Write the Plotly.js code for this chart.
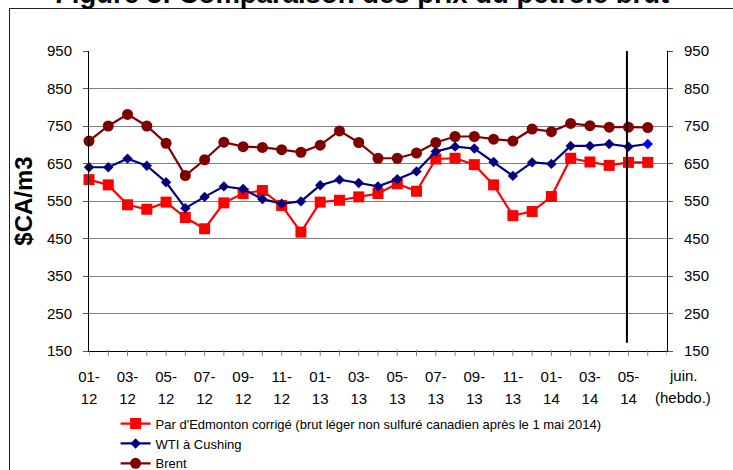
<!DOCTYPE html>
<html>
<head>
<meta charset="utf-8">
<script src="https://cdn.plot.ly/plotly-3.0.1.min.js"></script>
<style>
  html, body { margin: 0; padding: 0; background: #fff; overflow: hidden; }
  #frame { position: absolute; left: 9px; top: 8px; width: 800px; height: 600px;
           border-left: 1px solid #222; border-top: 1px solid #222; }
  #chart { position: absolute; left: 0; top: 0; width: 733px; height: 540px; }
</style>
</head>
<body>
<div id="frame"></div>
<div id="chart"></div>
<script>
// ---- Data ----
const categories = ['01-12','02-12','03-12','04-12','05-12','06-12','07-12','08-12','09-12','10-12','11-12','12-12',
                    '01-13','02-13','03-13','04-13','05-13','06-13','07-13','08-13','09-13','10-13','11-13','12-13',
                    '01-14','02-14','03-14','04-14','05-14','juin. (hebdo.)'];
const edmonton = [607,593,540,528,547,506,476,545,570,578,538,467,547,552,561,570,596,576,662,664,647,593,511,522,562,664,654,645,653,653];
const wti      = [640,640,663,644,600,531,561,589,582,555,543,549,592,607,598,589,608,629,682,695,690,654,617,653,649,697,697,702,695,702];
const brent    = [710,750,781,750,704,618,660,707,695,693,687,680,699,737,706,664,664,678,706,722,722,715,710,742,735,757,751,747,747,746];
const seriesNames = ["Par d'Edmonton corrigé (brut léger non sulfuré canadien après le 1 mai 2014)", 'WTI à Cushing', 'Brent'];
const yTitle = '$CA/m3';
const chartTitle = 'Figure 3: Comparaison des prix du pétrole brut';

// ---- Derived ----
const idx = categories.map((c, i) => i);
const labelIdx = idx.filter(i => i % 2 === 0 && i < categories.length - 1);
const line1 = labelIdx.map(i => categories[i].split('-')[0] + '-');
const line2 = labelIdx.map(i => categories[i].split('-')[1]);
const lastParts = categories[categories.length - 1].split(' ');
const allTicks = [];
for (let i = 0; i <= categories.length; i++) allTicks.push(i);
const wtiColors = wti.map((v, i) => i === wti.length - 1 ? '#0000FF' : '#000080');

const FONT = 'Liberation Sans, Arial, sans-serif';

const traces = [
  { x: idx, y: edmonton, name: seriesNames[0], type: 'scatter', mode: 'lines+markers',
    line: { color: '#FF0000', width: 2.2 }, marker: { symbol: 'square', size: 11, color: '#FF0000' },
    cliponaxis: false },
  { x: idx, y: wti, name: seriesNames[1], type: 'scatter', mode: 'lines+markers',
    line: { color: '#000080', width: 2.2 }, marker: { symbol: 'diamond', size: 8, color: wtiColors },
    cliponaxis: false },
  { x: idx, y: brent, name: seriesNames[2], type: 'scatter', mode: 'lines+markers',
    line: { color: '#800000', width: 2.2 }, marker: { symbol: 'circle', size: 11, color: '#800000' },
    cliponaxis: false },
  // invisible helpers to activate the secondary axes
  { x: idx, y: brent, xaxis: 'x', yaxis: 'y2', mode: 'lines', opacity: 0, showlegend: false, hoverinfo: 'skip' },
  { x: idx, y: brent, xaxis: 'x2', yaxis: 'y', mode: 'lines', opacity: 0, showlegend: false, hoverinfo: 'skip' }
];

const yTicks = [150,250,350,450,550,650,750,850,950];

const layout = {
  width: 733, height: 540,
  margin: { l: 89, r: 66, t: 51, b: 189 },
  paper_bgcolor: 'rgba(0,0,0,0)', plot_bgcolor: 'rgba(0,0,0,0)',
  font: { family: FONT, size: 15, color: '#000' },
  showlegend: true,
  legend: { x: 0.046, y: -0.192, xanchor: 'left', yanchor: 'top',
            orientation: 'v', font: { family: FONT, size: 13, color: '#000' },
            bgcolor: 'rgba(0,0,0,0)', tracegroupgap: 0 },
  xaxis: { range: [0, categories.length], tickmode: 'array', tickvals: labelIdx, ticktext: line1,
           showgrid: false, zeroline: false, showline: true, linecolor: '#000', linewidth: 1,
           ticks: '', ticklabelstandoff: 12, tickfont: { family: FONT, size: 15 } },
  xaxis2: { overlaying: 'x', range: [0, categories.length], tickmode: 'array', tickvals: labelIdx, ticktext: line2,
            showgrid: false, zeroline: false, showline: false, ticks: '', ticklabelstandoff: 37,
            tickfont: { family: FONT, size: 15 } },
  yaxis: { range: [150, 950], tickmode: 'array', tickvals: yTicks, showgrid: true, gridcolor: '#7f7f7f', gridwidth: 1,
           zeroline: false, showline: true, linecolor: '#000', linewidth: 1, ticks: 'outside', ticklen: 5,
           tickcolor: '#555', ticklabelstandoff: 8, tickfont: { family: FONT, size: 15 },
           title: { text: '<b>' + yTitle + '</b>', font: { family: FONT, size: 24 }, standoff: 7 } },
  yaxis2: { overlaying: 'y', side: 'right', range: [150, 950], tickmode: 'array', tickvals: yTicks,
            showgrid: false, zeroline: false, showline: true, linecolor: '#000', linewidth: 1,
            ticks: 'outside', ticklen: 5, tickcolor: '#555', ticklabelstandoff: 8, tickfont: { family: FONT, size: 15 } },
  shapes: [
    // x tick marks at every category boundary
    ...allTicks.map(i => ({ type: 'line', xref: 'x', yref: 'paper', x0: i, x1: i, y0: 0.003, y1: -0.017,
                            line: { color: '#808080', width: 1 } })),
    // separator between monthly and weekly data
    { type: 'line', xref: 'x', yref: 'y', x0: 27.92, x1: 27.92, y0: 172, y1: 950, line: { color: '#000', width: 2 } }
  ],
  annotations: [
    { text: '<b>' + chartTitle + '</b>', xref: 'paper', yref: 'paper', x: 0.472, y: 1.133, xanchor: 'center', yanchor: 'bottom',
      showarrow: false, font: { family: FONT, size: 27.5, color: '#000' } },
    { text: lastParts[0], xref: 'paper', yref: 'paper', x: 1.0277, y: -0.083, xanchor: 'center', yanchor: 'middle',
      showarrow: false, font: { family: FONT, size: 15, color: '#000' } },
    { text: lastParts[1], xref: 'paper', yref: 'paper', x: 1.0277, y: -0.156, xanchor: 'center', yanchor: 'middle',
      showarrow: false, font: { family: FONT, size: 15, color: '#000' } }
  ]
};

Plotly.newPlot('chart', traces, layout, { displayModeBar: false, staticPlot: true });
</script>
</body>
</html>
